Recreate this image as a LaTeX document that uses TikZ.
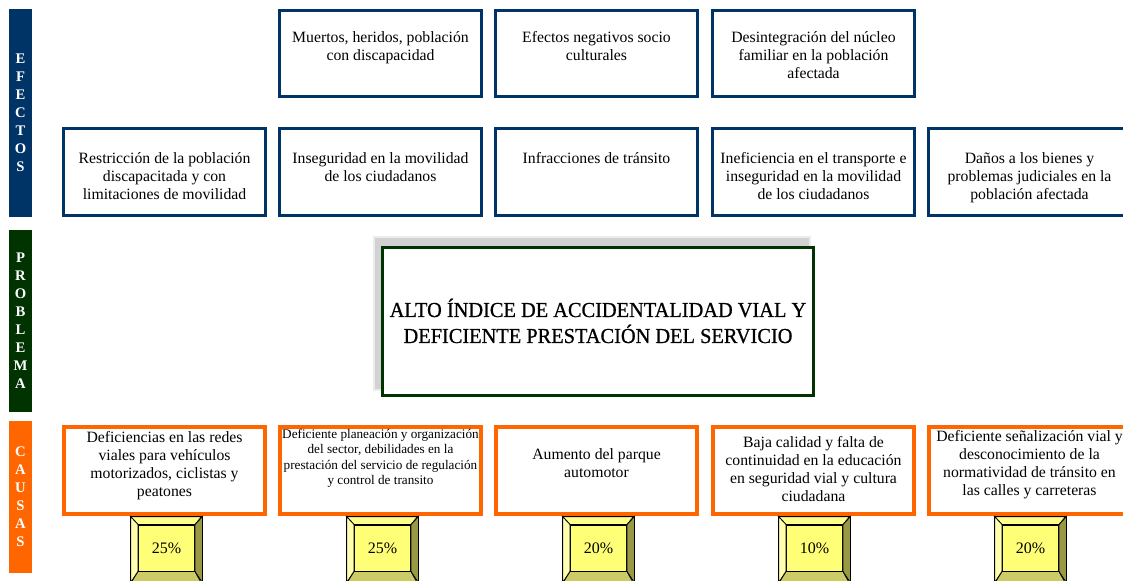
\documentclass[tikz,border=0pt]{standalone}
\usepackage{fontspec}
\setmainfont{Liberation Serif}
\newfontfamily\probfont[FakeStretch=0.955, FakeBold=0.8]{Liberation Serif}
\usepackage{tikz}
\usetikzlibrary{positioning}
\definecolor{azul}{HTML}{003366}
\definecolor{verde}{HTML}{003300}
\definecolor{naranja}{HTML}{FF6600}
\definecolor{pctin}{HTML}{FFFF77}
\definecolor{bevtop}{HTML}{FFFF8C}
\definecolor{bevleft}{HTML}{FFFFB0}
\definecolor{bevright}{HTML}{999944}
\definecolor{bevbot}{HTML}{CCCC66}
\tikzstyle{barra} = [rectangle, minimum width=17.25pt, inner sep=0pt, text=white,
    font=\fontsize{11}{13.5}\selectfont\bfseries, align=center]
\tikzstyle{efecto} = [rectangle, draw=azul, line width=2.25pt, fill=white,
    minimum width=151.5pt, minimum height=65pt]
\tikzstyle{causa} = [rectangle, draw=naranja, line width=3pt, fill=white,
    minimum width=150.75pt, minimum height=65.25pt]
\tikzstyle{texto} = [align=center, inner sep=0pt, font=\fontsize{11.8}{13.5}\selectfont]
\tikzstyle{sombra} = [rectangle, draw=gray!15, line width=2pt, fill=gray!35,
    minimum width=327pt, minimum height=114.75pt]
\tikzstyle{problema} = [rectangle, draw=verde, line width=2.25pt, fill=white,
    minimum width=323.25pt, minimum height=111pt, align=center,
    font=\probfont\fontsize{16}{19.5}\selectfont]
\tikzstyle{pct} = [rectangle, draw=black, line width=0.6pt, fill=pctin,
    minimum width=42pt, minimum height=34.5pt, inner sep=0pt, font=\fontsize{12}{14}\selectfont]
\tikzstyle{bevel} = [draw=black, line width=0.6pt]

\begin{document}
\begin{tikzpicture}[x=0.75pt, y=-0.75pt]
    \clip (0,0) rectangle (1123,581);
    % Side bars
    \node [barra, fill=azul, minimum height=156pt] (bEf) at (20.5,113) {E\\F\\E\\C\\T\\O\\S};
    \node [barra, fill=verde, minimum height=136.5pt] (bPr) at (20.5,321) {P\\R\\O\\B\\L\\E\\M\\A};
    \node [barra, fill=naranja, minimum height=114pt] (bCa) at (20.5,497) {C\\A\\U\\S\\A\\S};

    % Effects, upper row
    \node [efecto] (e1) at (380.5,53.5) {};
    \node [efecto] (e2) at (596.5,53.5) {};
    \node [efecto] (e3) at (813.5,53.5) {};
    \node [texto, below=17.2pt of e1.north] (te1) {Muertos, heridos, población\\con discapacidad};
    \node [texto, below=17.2pt of e2.north] (te2) {Efectos negativos socio\\culturales};
    \node [texto, below=17.2pt of e3.north] (te3) {Desintegración del núcleo\\familiar en la población\\afectada};

    % Effects, lower row
    \node [efecto] (e4) at (164.5,172) {};
    \node [efecto] (e5) at (380.5,172) {};
    \node [efecto] (e6) at (596.5,172) {};
    \node [efecto] (e7) at (813.5,172) {};
    \node [efecto] (e8) at (1029.5,172) {};
    \node [texto, below=18.6pt of e4.north] (te4) {Restricción de la población\\discapacitada y con\\limitaciones de movilidad};
    \node [texto, below=18.6pt of e5.north] (te5) {Inseguridad en la movilidad\\de los ciudadanos};
    \node [texto, below=18.6pt of e6.north] (te6) {Infracciones de tránsito};
    \node [texto, below=18.6pt of e7.north] (te7) {Ineficiencia en el transporte e\\inseguridad en la movilidad\\de los ciudadanos};
    \node [texto, below=18.6pt of e8.north] (te8) {Daños a los bienes y\\problemas judiciales en la\\población afectada};

    % Problem
    \node [sombra] (sh) at (592,313.5) {};
    \node [problema] (P) at (598,321) {ALTO ÍNDICE DE ACCIDENTALIDAD VIAL Y\\DEFICIENTE PRESTACIÓN DEL SERVICIO};

    % Causes
    \node [causa] (c1) at (164.5,470.5) {};
    \node [causa] (c2) at (380.5,470.5) {};
    \node [causa] (c3) at (596.5,470.5) {};
    \node [causa] (c4) at (813.5,470.5) {};
    \node [causa] (c5) at (1029.5,470.5) {};
    \node [texto, below=4.8pt of c1.north] (tc1) {Deficiencias en las redes\\viales para vehículos\\motorizados, ciclistas y\\peatones};
    \node [texto, font=\fontsize{9.9}{11.6}\selectfont, below=2.7pt of c2.north] (tc2) {Deficiente planeación y organización\\del sector, debilidades en la\\prestación del servicio de regulación\\y control de transito};
    \node [texto, below=17.6pt of c3.north] (tc3) {Aumento del parque\\automotor};
    \node [texto, below=8.6pt of c4.north] (tc4) {Baja calidad y falta de\\continuidad en la educación\\en seguridad vial y cultura\\ciudadana};
    \node [texto, below=4.1pt of c5.north] (tc5) {Deficiente señalización vial y\\desconocimiento de la\\normatividad de tránsito en\\las calles y carreteras};

    % Percentages
    \foreach \i/\cx/\val in {1/166.5/25, 2/382.5/25, 3/598.5/20, 4/814.5/10, 5/1030.5/20} {
        \node [pct] (p\i) at (\cx,548) {\val\%};
        \filldraw [bevel, fill=bevtop] (p\i.north west) -- ++(-7.5,-8) -- ++(71,0) -- (p\i.north east) -- cycle;
        \filldraw [bevel, fill=bevleft] (p\i.north west) -- ++(-7.5,-8) -- ++(0,66) -- (p\i.south west) -- cycle;
        \filldraw [bevel, fill=bevright] (p\i.north east) -- ++(7.5,-8) -- ++(0,66) -- (p\i.south east) -- cycle;
        \filldraw [bevel, fill=bevbot] (p\i.south west) -- ++(-7.5,12) -- ++(71,0) -- (p\i.south east) -- cycle;
    }
\end{tikzpicture}
\end{document}
